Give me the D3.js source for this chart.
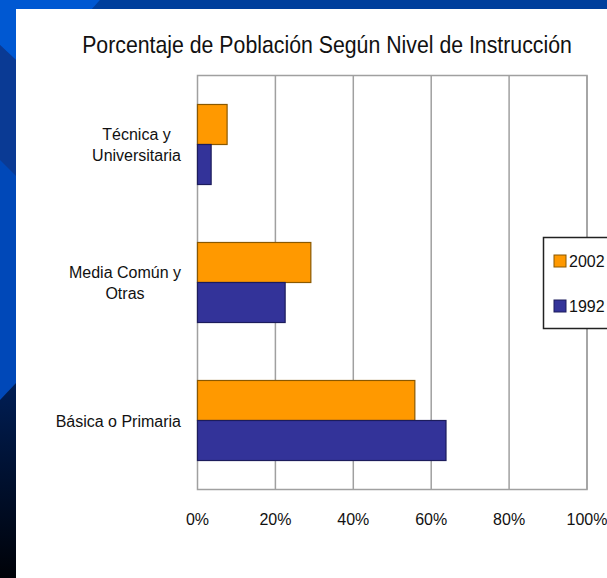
<!DOCTYPE html>
<html>
<head>
<meta charset="utf-8">
<script src="https://cdn.jsdelivr.net/npm/d3@7"></script>
<style>
  body { margin: 0; background: #0048b8; }
  svg { display: block; }
  text { font-family: "Liberation Sans", Arial, sans-serif; fill: #111; }
</style>
</head>
<body>
<svg id="chart" width="607" height="578"></svg>
<script>
// data
const categories = ["Técnica y\nUniversitaria", "Media Común y\nOtras", "Básica o Primaria"];
const series = ["2002", "1992"];
const values2002 = [0.076, 0.291, 0.558];
const values1992 = [0.035, 0.225, 0.638];
const ticks = [0, 0.2, 0.4, 0.6, 0.8, 1.0];
const title = "Porcentaje de Población Según Nivel de Instrucción";

const colour = d3.scaleOrdinal(series, ["#ff9900", "#333399"]);
const edge = d3.scaleOrdinal(series, ["#8a5800", "#1c1c5c"]);

const svg = d3.select("#chart");
const W = 607, H = 578;

// slide background
const defs = svg.append("defs");
const lg = defs.append("linearGradient").attr("id", "bottomDark")
  .attr("x1", 0).attr("y1", 0).attr("x2", 0).attr("y2", 1);
lg.append("stop").attr("offset", 0).attr("stop-color", "#001e55");
lg.append("stop").attr("offset", 1).attr("stop-color", "#000208");

svg.append("rect").attr("width", W).attr("height", H).attr("fill", "#0048b8");
svg.append("path").attr("d", "M0,0L100,0L92,9L16,9L16,60L0,45Z").attr("fill", "#0058d2");
svg.append("path").attr("d", "M100,0L607,0L607,9L92,9Z").attr("fill", "#003f9c");
svg.append("path").attr("d", "M0,45L16,60L16,176L0,160Z").attr("fill", "#0a3a94");
svg.append("path").attr("d", "M0,400L16,383L16,578L0,578Z").attr("fill", "url(#bottomDark)");

// white panel
svg.append("rect").attr("x", 16).attr("y", 9).attr("width", W - 16).attr("height", H - 9).attr("fill", "#fff");

// title, squeezed horizontally to the reference width
const tg = svg.append("g");
const tt = tg.append("text")
  .attr("x", 0).attr("y", 0)
  .attr("text-anchor", "middle")
  .attr("font-size", 24)
  .text(title);
const sx = Math.min(1, 490 / tt.node().getComputedTextLength());
tg.attr("transform", `translate(327,53) scale(${sx},1)`);

const x = d3.scaleLinear().domain([0, 1]).range([197.5, 587]);
const y = d3.scaleBand().domain(categories).range([75.5, 489.5]).paddingInner(0.42).paddingOuter(0.21);
const ys = d3.scaleBand().domain(series).range([0, y.bandwidth()]);

const g = svg.append("g");

// grid lines and frame
g.selectAll(".grid").data(ticks.slice(1)).enter().append("line")
  .attr("class", "grid")
  .attr("x1", d => x(d)).attr("x2", d => x(d))
  .attr("y1", y.range()[0]).attr("y2", y.range()[1])
  .attr("stroke", "#a0a0a0").attr("stroke-width", 1.5);
g.append("rect")
  .attr("x", x(0)).attr("y", y.range()[0])
  .attr("width", x(1) - x(0)).attr("height", y.range()[1] - y.range()[0])
  .attr("fill", "none").attr("stroke", "#a0a0a0").attr("stroke-width", 1.5);

// bars
const rows = categories.map((c, i) => ({ cat: c, vals: [
  { s: "2002", v: values2002[i] },
  { s: "1992", v: values1992[i] }
] }));

const grp = g.selectAll(".cat").data(rows).enter().append("g")
  .attr("class", "cat")
  .attr("transform", d => `translate(0,${y(d.cat)})`);
grp.selectAll("rect").data(d => d.vals).enter().append("rect")
  .attr("x", x(0))
  .attr("y", d => ys(d.s))
  .attr("width", d => x(d.v) - x(0))
  .attr("height", ys.bandwidth())
  .attr("fill", d => colour(d.s))
  .attr("stroke", d => edge(d.s)).attr("stroke-width", 1.2);

// category labels, block right-aligned, lines centred
const lineH = 21;
rows.forEach(r => {
  const lines = r.cat.split("\n");
  const t = svg.append("text").attr("font-size", 16).attr("text-anchor", "middle");
  const spans = t.selectAll("tspan").data(lines).enter().append("tspan").text(d => d);
  const maxw = d3.max(spans.nodes(), n => n.getComputedTextLength());
  const cx = 181 - maxw / 2;
  const cy = y(r.cat) + y.bandwidth() / 2;
  const first = cy - (lines.length - 1) * lineH / 2 + 6;
  spans.attr("x", cx).attr("y", (d, i) => first + i * lineH);
});

// x tick labels
svg.selectAll(".tick").data(ticks).enter().append("text")
  .attr("class", "tick")
  .attr("x", d => x(d)).attr("y", 525)
  .attr("text-anchor", "middle")
  .attr("font-size", 16)
  .text(d3.format(".0%"));

// legend
const leg = svg.append("g");
leg.append("rect")
  .attr("x", 543.5).attr("y", 237.5).attr("width", 90).attr("height", 91)
  .attr("fill", "#fff").attr("stroke", "#222").attr("stroke-width", 1.5);
const item = leg.selectAll(".item").data(series).enter().append("g")
  .attr("class", "item")
  .attr("transform", (d, i) => `translate(554,${255 + i * 45})`);
item.append("rect").attr("width", 12).attr("height", 12)
  .attr("fill", d => colour(d)).attr("stroke", d => edge(d)).attr("stroke-width", 1);
item.append("text").attr("x", 15).attr("y", 12).attr("font-size", 16).text(d => d);
</script>
</body>
</html>
